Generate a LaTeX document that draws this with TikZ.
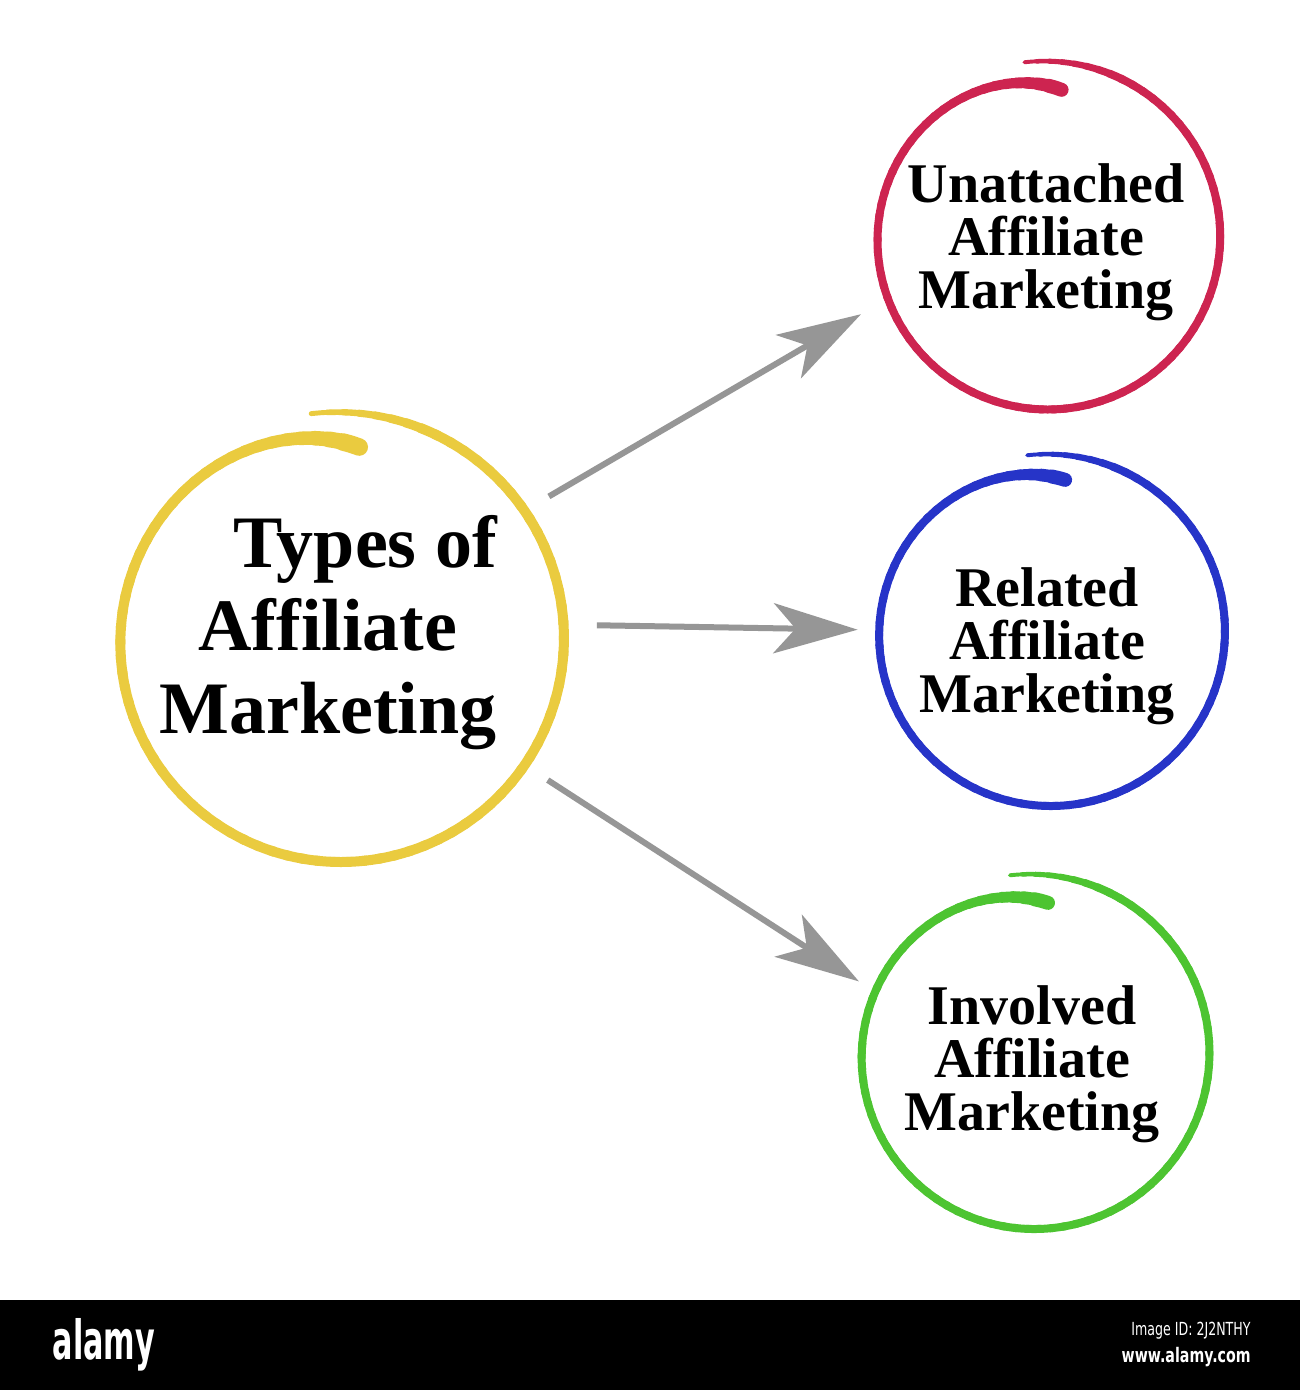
\documentclass[tikz,border=0pt]{standalone}
\usepackage{fontspec}
\setmainfont{Liberation Serif}
\newfontfamily\wmfont{DejaVu Sans}
\usetikzlibrary{arrows.meta}
\definecolor{ringyellow}{RGB}{234,203,63}
\definecolor{ringred}{RGB}{205,36,80}
\definecolor{ringblue}{RGB}{38,52,200}
\definecolor{ringgreen}{RGB}{77,196,49}
\definecolor{arrowgray}{RGB}{150,150,150}

\begin{document}
\begin{tikzpicture}[x=0.5pt,y=-0.5pt,
   ring/.style={circle,minimum size=#1,inner sep=0pt},
   maintext/.style={font=\bfseries\fontsize{37}{41.5}\selectfont,align=center},
   typetext/.style={font=\bfseries\fontsize{28}{26.5}\selectfont,align=center},
   wmtext/.style={text=white,inner sep=0pt},
   link/.style={draw=arrowgray,line width=3pt,-{Stealth[length=42pt,width=25pt,inset=11pt]}}]
\useasboundingbox (0,0) rectangle (1300,1390);
\fill[white] (0,0) rectangle (1300,1300);
\fill[black] (0,1300) rectangle (1300,1390);

\node[ring=220pt] (main) at (339,640) {};
\node[ring=170pt] (unatt) at (1046,238) {};
\node[ring=170pt] (rel) at (1049,633) {};
\node[ring=170pt] (inv) at (1032,1055) {};

\foreach \cx/\cy/\R/\D/\G/\w/\col in {339/640/216/22/12/5/ringyellow,
    1046/238/166/17/11/4/ringred, 1049/633/167/13/12/4/ringblue,
    1032/1055/167/14/14/4/ringgreen}{
  \begin{scope}[draw=\col,line cap=round,
      declare function={rr(\t)=\R+\G*(\t-84)/371-\D*exp(-(\t-84)/25);}]
    \foreach \a in {84,88,...,452}
      \draw[line width={\w*(1+0.75*exp(-(\a-84)/16))*min(1,0.4+(457-\a)/55)*1pt}]
        plot[domain=\a:\a+5,samples=3,smooth]
        ({\cx+rr(\x)*cos(\x)},{\cy-rr(\x)*sin(\x)});
  \end{scope}
}

\node[maintext] (maintxt) at (328,633) {\hspace*{1em}Types of\\Affiliate\\Marketing};
\node[typetext] (unatttxt) at (1046,242) {Unattached\\Affiliate\\Marketing};
\node[typetext] (reltxt) at (1047,646) {Related\\Affiliate\\Marketing};
\node[typetext] (invtxt) at (1032,1064) {Involved\\Affiliate\\Marketing};

\draw[link,shorten <=17pt,shorten >=15pt] (main.35) -- (unatt.201);
\draw[link,shorten <=19pt,shorten >=10.5pt] (main.4) -- (rel.179);
\draw[link,shorten <=15.5pt,shorten >=9pt] (main.-34) -- (inv.158);

\node[wmtext,font=\wmfont\bfseries\fontsize{27}{27}\selectfont] (wmlogo) at (104,1345) {\scalebox{0.56}[1]{alamy}};
\node[wmtext,anchor=east,font=\wmfont\fontsize{9}{9}\selectfont] (wmid) at (1251,1331) {\scalebox{0.7}[1]{Image ID: 2J2NTHY}};
\node[wmtext,anchor=east,font=\wmfont\bfseries\fontsize{10}{10}\selectfont] (wmurl) at (1251,1357) {\scalebox{0.71}[1]{www.alamy.com}};
\end{tikzpicture}
\end{document}
